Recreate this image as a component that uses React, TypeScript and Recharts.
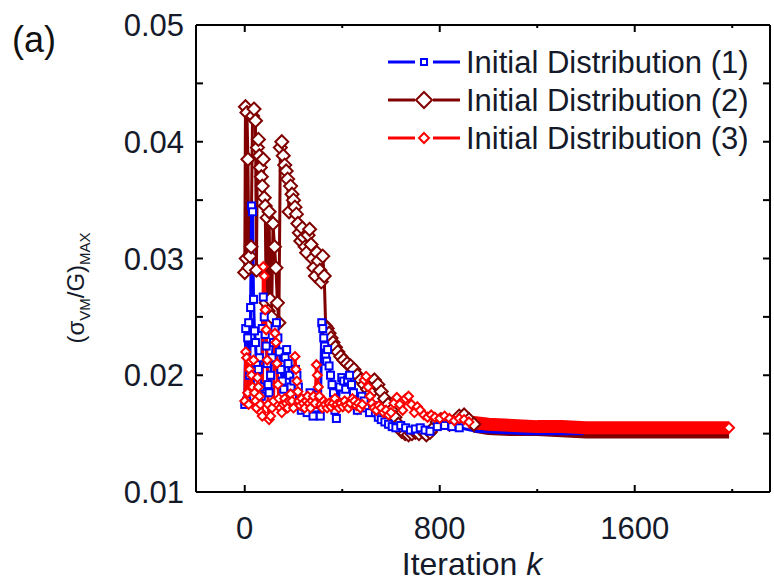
import React from "react";
import { LineChart, Line, XAxis, YAxis, ReferenceLine } from "recharts";

// iteration k, (sigma_VM/G)_MAX
const dist1Early: [number, number][] = [
  [0, 0.0175], [4, 0.024], [8, 0.0178], [12, 0.0232], [16, 0.0245], [20, 0.02], [24, 0.0258], [28, 0.0345],
  [32, 0.034], [36, 0.0265], [40, 0.0238], [44, 0.0228], [48, 0.021], [52, 0.0195], [56, 0.0205], [60, 0.0215],
  [64, 0.019], [68, 0.0182], [72, 0.024], [76, 0.0267], [80, 0.025], [84, 0.0235], [88, 0.0225], [92, 0.021],
  [96, 0.0192], [100, 0.0185], [106, 0.02], [112, 0.0215], [118, 0.0228], [124, 0.024], [130, 0.0245], [136, 0.0232],
  [142, 0.022], [148, 0.0205], [154, 0.0195], [160, 0.0188], [166, 0.0215], [172, 0.0222], [178, 0.021], [184, 0.02],
  [190, 0.019], [196, 0.0182], [202, 0.0195], [208, 0.0205], [214, 0.02], [220, 0.019], [226, 0.0178], [232, 0.017],
  [238, 0.0175], [244, 0.018], [250, 0.0172], [256, 0.0168], [262, 0.0175], [268, 0.0185], [274, 0.0178], [280, 0.0165],
  [288, 0.0172], [296, 0.0183], [304, 0.0175], [310, 0.0165], [316, 0.0245], [320, 0.024], [324, 0.0232], [328, 0.0225],
  [332, 0.0218], [336, 0.0212], [340, 0.0222], [346, 0.0208], [352, 0.02], [358, 0.0192], [364, 0.0185], [370, 0.017],
  [376, 0.0163], [382, 0.0175], [390, 0.019], [398, 0.0198], [406, 0.0195], [414, 0.0188], [422, 0.0196], [430, 0.02],
  [438, 0.0192], [446, 0.0185], [454, 0.0178], [462, 0.017], [470, 0.0175], [480, 0.0182], [490, 0.0178], [500, 0.0172],
  [512, 0.0168], [524, 0.0174], [536, 0.0168], [548, 0.0164], [560, 0.0162], [575, 0.016], [590, 0.0158], [605, 0.0156],
  [620, 0.0155], [640, 0.0157], [660, 0.0155], [680, 0.0153], [700, 0.0154], [720, 0.0155], [740, 0.0153], [760, 0.0152],
  [790, 0.0156], [820, 0.0157], [850, 0.0156], [880, 0.0155],
];
const dist1Tail: [number, number][] = [
  [880, 0.0155], [950, 0.0152], [1050, 0.0151], [1150, 0.015], [1250, 0.015], [1390, 0.015],
];

const dist2Early: [number, number][] = [
  [0, 0.0288], [3, 0.043], [6, 0.03], [9, 0.0425], [13, 0.0385], [17, 0.0292], [21, 0.0302], [26, 0.031],
  [32, 0.0422], [38, 0.0428], [44, 0.0418], [48, 0.029], [52, 0.0395], [56, 0.0402], [60, 0.0388], [64, 0.0378],
  [68, 0.037], [72, 0.0362], [76, 0.0385], [80, 0.0352], [84, 0.0345], [88, 0.0262], [92, 0.0335], [96, 0.0255],
  [100, 0.034], [104, 0.0265], [110, 0.025], [116, 0.033], [122, 0.031], [128, 0.0292], [134, 0.0262], [140, 0.0245],
  [146, 0.0395], [152, 0.04], [158, 0.0388], [164, 0.038], [170, 0.0375], [176, 0.0368], [182, 0.034], [188, 0.0362],
  [194, 0.0355], [200, 0.035], [206, 0.0344], [212, 0.0338], [218, 0.033], [224, 0.0322], [230, 0.0315], [236, 0.0326],
  [242, 0.0318], [248, 0.031], [254, 0.0305], [260, 0.032], [266, 0.0325], [272, 0.0312], [278, 0.03], [284, 0.0292],
  [290, 0.0285], [296, 0.0305], [302, 0.0298], [308, 0.029], [314, 0.028], [320, 0.0302], [326, 0.0285], [332, 0.0242],
  [338, 0.024], [346, 0.0236], [354, 0.0232], [362, 0.0228], [372, 0.0224], [382, 0.022], [394, 0.0216], [406, 0.0213],
  [420, 0.021], [434, 0.0208], [448, 0.0205], [462, 0.02], [476, 0.0196], [490, 0.0192], [504, 0.0188], [518, 0.0185],
  [532, 0.0196], [546, 0.0192], [560, 0.0186], [574, 0.018], [588, 0.0175], [602, 0.017], [616, 0.0164], [630, 0.0158],
  [644, 0.0152], [658, 0.015], [672, 0.0149], [686, 0.015], [700, 0.0151], [715, 0.015], [730, 0.0152], [745, 0.0149],
  [760, 0.0151], [775, 0.0155], [790, 0.016], [805, 0.0162], [820, 0.016], [840, 0.0158], [860, 0.016], [880, 0.0165],
  [900, 0.0166], [920, 0.0162], [940, 0.0158],
];
const dist2Tail: [number, number][] = [
  [940, 0.0156], [1000, 0.0154], [1100, 0.0153], [1200, 0.0153], [1300, 0.0152], [1400, 0.0151],
  [1500, 0.0151], [1600, 0.0151], [1700, 0.0151], [1800, 0.0151], [1900, 0.0151], [1987, 0.0151],
];

const dist3Early: [number, number][] = [
  [0, 0.0178], [4, 0.022], [8, 0.0215], [12, 0.0185], [16, 0.0175], [20, 0.0205], [24, 0.0212], [28, 0.02],
  [32, 0.019], [36, 0.0213], [40, 0.0185], [44, 0.0178], [48, 0.0172], [52, 0.0198], [56, 0.019], [60, 0.0182],
  [64, 0.0175], [68, 0.0168], [72, 0.0165], [76, 0.0293], [80, 0.0285], [84, 0.0256], [88, 0.0239], [92, 0.0213],
  [96, 0.0175], [100, 0.0162], [106, 0.0165], [112, 0.0172], [118, 0.0178], [124, 0.0236], [128, 0.0228], [132, 0.021],
  [136, 0.0192], [140, 0.018], [146, 0.0172], [152, 0.0168], [158, 0.0175], [164, 0.018], [170, 0.0176], [176, 0.0172],
  [182, 0.0178], [188, 0.0184], [194, 0.0178], [200, 0.0172], [206, 0.0216], [210, 0.0205], [214, 0.0195], [218, 0.0186],
  [222, 0.0178], [228, 0.0174], [234, 0.018], [240, 0.0176], [246, 0.0172], [252, 0.0178], [258, 0.0182], [264, 0.0176],
  [270, 0.0172], [276, 0.0178], [282, 0.0182], [288, 0.0176], [294, 0.0209], [298, 0.02], [302, 0.019], [306, 0.0182],
  [312, 0.0175], [318, 0.0172], [324, 0.0178], [330, 0.0175], [338, 0.0172], [346, 0.0176], [354, 0.0173], [362, 0.0176],
  [370, 0.018], [378, 0.0175], [386, 0.0172], [394, 0.0176], [402, 0.0173], [410, 0.0178], [418, 0.0174], [426, 0.0172],
  [434, 0.0176], [442, 0.018], [450, 0.0178], [458, 0.0174], [466, 0.0176], [474, 0.0172], [482, 0.0175], [490, 0.0196],
  [498, 0.0199], [506, 0.019], [514, 0.0182], [522, 0.0176], [530, 0.0172], [540, 0.017], [550, 0.0174], [560, 0.0172],
  [570, 0.0168], [580, 0.017], [590, 0.0166], [600, 0.0168], [612, 0.0176], [624, 0.0181], [636, 0.0175], [648, 0.017],
  [660, 0.018], [672, 0.0182], [684, 0.0175], [696, 0.0168], [708, 0.0173], [720, 0.017], [735, 0.0166], [750, 0.0164],
  [765, 0.0166], [780, 0.0164], [800, 0.0163], [820, 0.0165], [840, 0.0163], [860, 0.0161], [880, 0.0163], [900, 0.0162],
  [920, 0.016],
];
const dist3Tail: [number, number][] = [
  [920, 0.016], [1000, 0.0158], [1100, 0.0157], [1200, 0.0156], [1300, 0.0156], [1400, 0.0155],
  [1500, 0.0155], [1600, 0.0155], [1700, 0.0155], [1800, 0.0155], [1900, 0.0155], [1987, 0.0155],
];

const seriesNames = ["Initial Distribution (1)", "Initial Distribution (2)", "Initial Distribution (3)"];
const seriesColors = ["#0000ff", "#800000", "#ff0000"];

const xTicks = [0, 400, 800, 1200, 1600, 2000];
const xLabelTicks = [0, 800, 1600];
const yTicks = [0.01, 0.015, 0.02, 0.025, 0.03, 0.035, 0.04, 0.045, 0.05];
const yLabelTicks = [0.01, 0.02, 0.03, 0.04, 0.05];

const W = 774;
const H = 588;
const PLOT = { left: 196, top: 25, right: 770, bottom: 492 };
const FONT = '"Liberation Sans", Arial, sans-serif';
const TEXT = "#141a2a";

const toRows = (pts: [number, number][]) => pts.map(([k, v]) => ({ k, v }));

const square = (color: string, r: number, sw: number) => (p: any) => {
  const { cx, cy, index } = p;
  if (cx == null || cy == null) return <g key={index} />;
  return <rect key={index} x={cx - r} y={cy - r} width={2 * r} height={2 * r} fill="#fff" stroke={color} strokeWidth={sw} />;
};

const diamond = (color: string, r: number, sw: number, onlyLast?: number) => (p: any) => {
  const { cx, cy, index } = p;
  if (cx == null || cy == null || (onlyLast != null && index !== onlyLast)) return <g key={index} />;
  return (
    <path
      key={index}
      d={`M${cx},${cy - r}L${cx + r},${cy}L${cx},${cy + r}L${cx - r},${cy}Z`}
      fill="#fff"
      stroke={color}
      strokeWidth={sw}
    />
  );
};

const XTick = (props: any) => {
  const { x, payload } = props;
  const major = xLabelTicks.includes(payload.value);
  const len = major ? 7 : 3;
  return (
    <g>
      <line x1={x} y1={PLOT.bottom} x2={x} y2={PLOT.bottom - len} stroke="#000" strokeWidth={2} />
      <line x1={x} y1={PLOT.top} x2={x} y2={PLOT.top + len} stroke="#000" strokeWidth={2} />
      {major && (
        <text x={x} y={539} textAnchor="middle" fontSize={31} fontFamily={FONT} fill={TEXT}>
          {payload.value}
        </text>
      )}
    </g>
  );
};

const YTick = (props: any) => {
  const { y, payload } = props;
  const major = yLabelTicks.some((t) => Math.abs(t - payload.value) < 1e-9);
  return (
    <g>
      <line x1={PLOT.left} y1={y} x2={PLOT.left + 7} y2={y} stroke="#000" strokeWidth={2} />
      <line x1={PLOT.right} y1={y} x2={PLOT.right - 7} y2={y} stroke="#000" strokeWidth={2} />
      {major && (
        <text x={184} y={y + 11} textAnchor="end" fontSize={31} fontFamily={FONT} fill={TEXT}>
          {payload.value.toFixed(2)}
        </text>
      )}
    </g>
  );
};

const LegendOverlay = () => (
  <g>
    {seriesNames.map((name, i) => {
      const cy = 62 + i * 38;
      const c = seriesColors[i];
      const mx = 424;
      return (
        <g key={name}>
          <line x1={388} y1={cy} x2={415} y2={cy} stroke={c} strokeWidth={3} />
          <line x1={433} y1={cy} x2={460} y2={cy} stroke={c} strokeWidth={3} />
          {i === 0 && <rect x={mx - 3} y={cy - 3} width={6} height={6} fill="#fff" stroke={c} strokeWidth={2} />}
          {i === 1 && (
            <path d={`M${mx},${cy - 8}L${mx + 8},${cy}L${mx},${cy + 8}L${mx - 8},${cy}Z`} fill="#fff" stroke={c} strokeWidth={2} />
          )}
          {i === 2 && (
            <path d={`M${mx},${cy - 5}L${mx + 5},${cy}L${mx},${cy + 5}L${mx - 5},${cy}Z`} fill="#fff" stroke={c} strokeWidth={2} />
          )}
          <text x={466} y={cy + 11} fontSize={31} fontFamily={FONT} fill={TEXT}>
            {name}
          </text>
        </g>
      );
    })}
  </g>
);

export default function App() {
  return (
    <div style={{ position: "absolute", left: 0, top: 0, width: W, height: H, background: "#fff" }}>
      <LineChart width={W} height={H} margin={{ top: PLOT.top, right: W - PLOT.right, bottom: 0, left: 0 }}>
        <XAxis
          type="number"
          dataKey="k"
          domain={[-200, 2155]}
          allowDataOverflow
          ticks={xTicks}
          interval={0}
          tick={<XTick />}
          tickLine={false}
          tickSize={0}
          tickMargin={0}
          height={H - PLOT.bottom}
          axisLine={{ stroke: "#000", strokeWidth: 2 }}
        />
        <YAxis
          type="number"
          domain={[0.01, 0.05]}
          allowDataOverflow
          ticks={yTicks}
          interval={0}
          tick={<YTick />}
          tickLine={false}
          tickSize={0}
          tickMargin={0}
          width={PLOT.left}
          axisLine={{ stroke: "#000", strokeWidth: 2 }}
        />
        <ReferenceLine y={0.05} stroke="#000" strokeWidth={2} ifOverflow="visible" />
        <ReferenceLine x={2155} stroke="#000" strokeWidth={2} ifOverflow="visible" />

        <Line data={toRows(dist2Early)} dataKey="v" stroke={seriesColors[1]} strokeWidth={3}
          dot={diamond(seriesColors[1], 6.5, 2)} activeDot={false} isAnimationActive={false} />
        <Line data={toRows(dist2Tail)} dataKey="v" stroke={seriesColors[1]} strokeWidth={12}
          dot={false} activeDot={false} isAnimationActive={false} />
        <Line data={toRows(dist1Early)} dataKey="v" stroke={seriesColors[0]} strokeWidth={3}
          dot={square(seriesColors[0], 3.5, 2)} activeDot={false} isAnimationActive={false} />
        <Line data={toRows(dist1Tail)} dataKey="v" stroke={seriesColors[0]} strokeWidth={3}
          dot={false} activeDot={false} isAnimationActive={false} />
        <Line data={toRows(dist3Early)} dataKey="v" stroke={seriesColors[2]} strokeWidth={3}
          dot={diamond(seriesColors[2], 4.5, 2)} activeDot={false} isAnimationActive={false} />
        <Line data={toRows(dist3Tail)} dataKey="v" stroke={seriesColors[2]} strokeWidth={13}
          dot={diamond(seriesColors[2], 5, 2, dist3Tail.length - 1)} activeDot={false} isAnimationActive={false} />
      </LineChart>

      <svg width={W} height={H} style={{ position: "absolute", left: 0, top: 0, pointerEvents: "none" }}>
        <text x={12} y={52} fontSize={36} fontFamily={FONT} fill="#111">(a)</text>
        <text transform="translate(84,288) rotate(-90)" textAnchor="middle" fontFamily={FONT} fill={TEXT} fontSize={24}>
          (σ<tspan fontSize={15} dy={6}>VM</tspan>
          <tspan dy={-6}>/G)</tspan>
          <tspan fontSize={15} dy={6}>MAX</tspan>
        </text>
        <text x={472} y={575} textAnchor="middle" fontSize={32} fontFamily={FONT} fill={TEXT}>
          Iteration <tspan fontStyle="italic">k</tspan>
        </text>
        <LegendOverlay />
      </svg>
    </div>
  );
}
